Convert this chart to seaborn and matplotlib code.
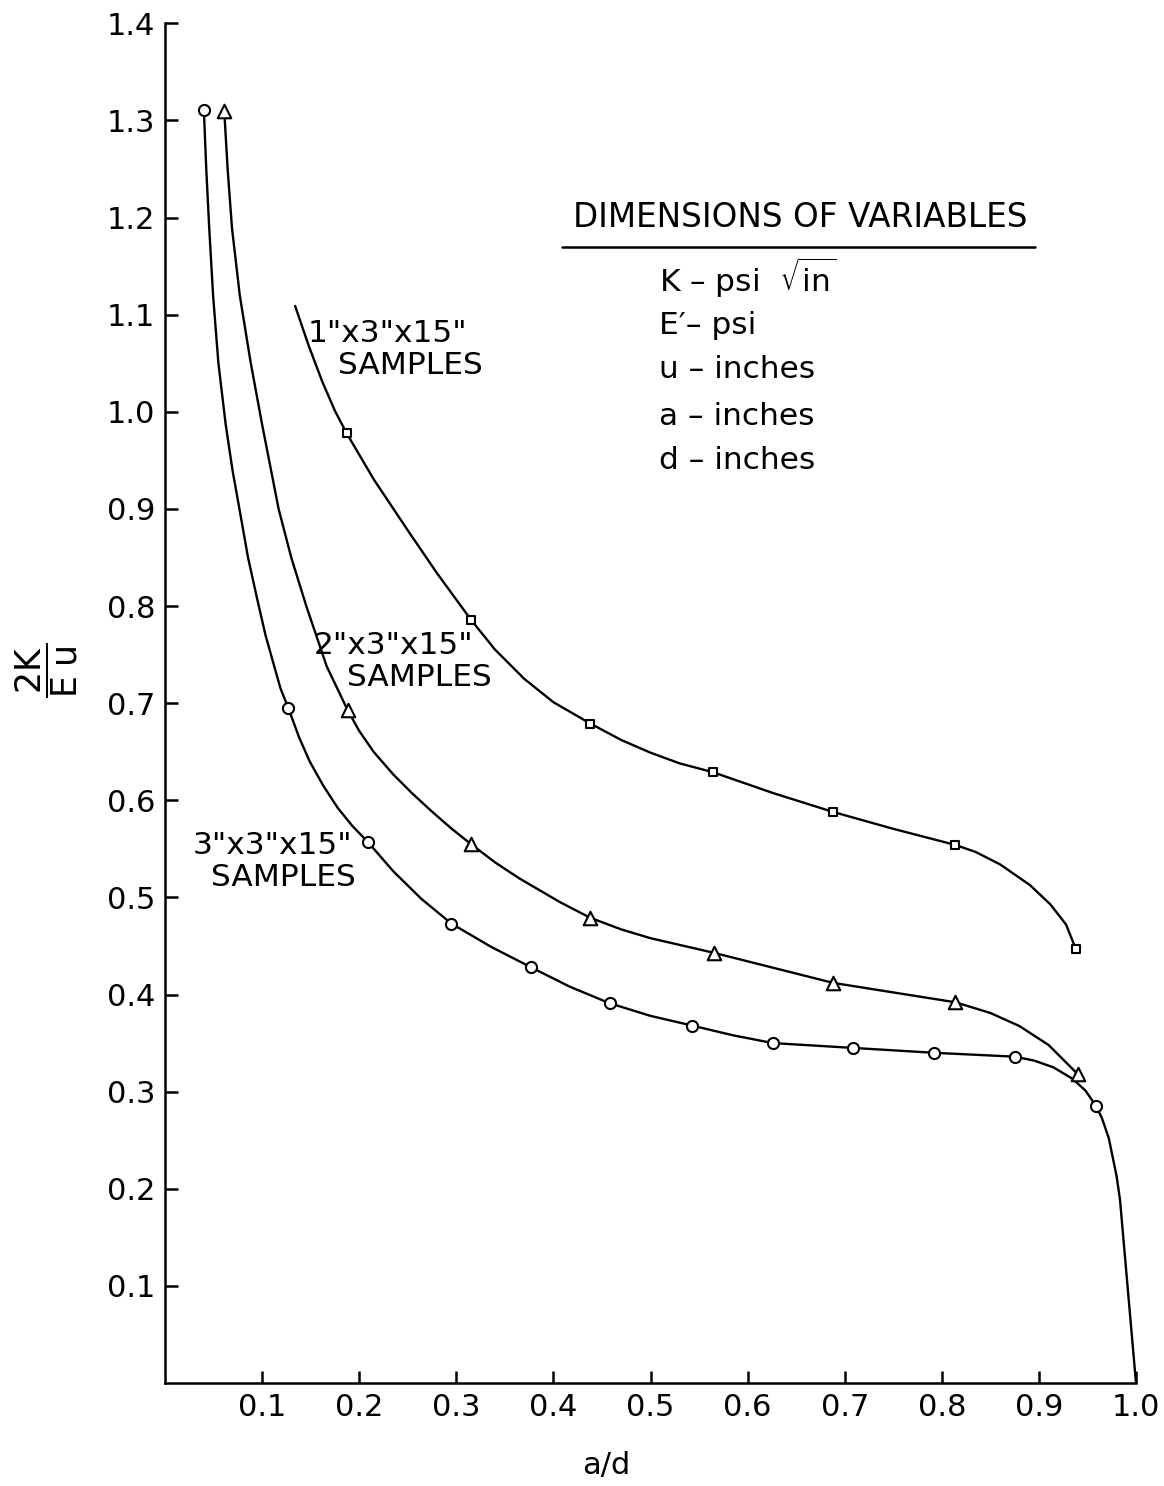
import matplotlib
matplotlib.use("Agg")
import matplotlib.pyplot as plt
from matplotlib.lines import Line2D
import pandas as pd
import seaborn as sns

# ---------------- data ----------------
series_names = ['3"x3"x15"', '2"x3"x15"', '1"x3"x15"']

# plotted test points (markers)
circle_ad = [0.040, 0.127, 0.209, 0.295, 0.377, 0.458, 0.543, 0.626, 0.709, 0.792, 0.875, 0.959]
circle_k = [1.311, 0.695, 0.557, 0.473, 0.428, 0.391, 0.368, 0.350, 0.345, 0.340, 0.336, 0.285]

triangle_ad = [0.061, 0.188, 0.315, 0.438, 0.565, 0.688, 0.814, 0.940]
triangle_k = [1.310, 0.693, 0.555, 0.479, 0.443, 0.412, 0.392, 0.318]

square_ad = [0.187, 0.315, 0.438, 0.564, 0.688, 0.814, 0.938]
square_k = [0.978, 0.786, 0.679, 0.629, 0.588, 0.554, 0.447]

# traced faired curves
circle_curve_ad = [0.040, 0.0425, 0.0455, 0.0495, 0.0550, 0.0625, 0.0695, 0.0770, 0.0855, 0.0950,
                   0.1035, 0.1125, 0.1190, 0.127, 0.138, 0.149, 0.163, 0.178, 0.193, 0.209,
                   0.235, 0.264, 0.295, 0.336, 0.377, 0.417, 0.458, 0.500, 0.543, 0.585,
                   0.626, 0.709, 0.792, 0.875, 0.895, 0.915, 0.935, 0.948, 0.959, 0.965,
                   0.972, 0.980, 0.9835, 0.9917, 1.000]
circle_curve_k = [1.311, 1.250, 1.190, 1.120, 1.050, 0.987, 0.940, 0.898, 0.850, 0.807,
                  0.770, 0.738, 0.715, 0.695, 0.665, 0.640, 0.615, 0.592, 0.5735, 0.557,
                  0.527, 0.4985, 0.473, 0.449, 0.428, 0.408, 0.391, 0.378, 0.368, 0.358,
                  0.350, 0.345, 0.340, 0.336, 0.332, 0.325, 0.313, 0.301, 0.285, 0.2725,
                  0.252, 0.213, 0.189, 0.095, 0.000]

triangle_curve_ad = [0.061, 0.0645, 0.069, 0.077, 0.088, 0.100, 0.117, 0.130, 0.1455, 0.1665,
                     0.188, 0.200, 0.215, 0.235, 0.255, 0.275, 0.295, 0.315, 0.340, 0.365,
                     0.407, 0.438, 0.470, 0.500, 0.565, 0.688, 0.814, 0.850, 0.880, 0.910,
                     0.940]
triangle_curve_k = [1.310, 1.250, 1.189, 1.120, 1.052, 0.987, 0.900, 0.850, 0.800, 0.738,
                    0.693, 0.6714, 0.6497, 0.6267, 0.6067, 0.5883, 0.5709, 0.555, 0.536, 0.5195,
                    0.495, 0.479, 0.467, 0.458, 0.443, 0.412, 0.392, 0.381, 0.3675, 0.348,
                    0.318]

square_curve_ad = [0.134, 0.148, 0.162, 0.175, 0.187, 0.215, 0.252, 0.280, 0.315, 0.340,
                   0.370, 0.400, 0.438, 0.470, 0.500, 0.530, 0.564, 0.626, 0.688, 0.750,
                   0.814, 0.835, 0.860, 0.891, 0.912, 0.928, 0.938]
square_curve_k = [1.109, 1.068, 1.031, 1.001, 0.978, 0.9304, 0.875, 0.834, 0.786, 0.755,
                  0.725, 0.701, 0.679, 0.662, 0.649, 0.638, 0.629, 0.6075, 0.588, 0.5706,
                  0.554, 0.5467, 0.534, 0.5125, 0.4926, 0.472, 0.447]

x_ticks = [0.1, 0.2, 0.3, 0.4, 0.5, 0.6, 0.7, 0.8, 0.9, 1.0]
x_tick_labels = ["0.1", "0.2", "0.3", "0.4", "0.5", "0.6", "0.7", "0.8", "0.9", "1.0"]
y_ticks = [0.1, 0.2, 0.3, 0.4, 0.5, 0.6, 0.7, 0.8, 0.9, 1.0, 1.1, 1.2, 1.3, 1.4]
y_tick_labels = ["0.1", "0.2", "0.3", "0.4", "0.5", "0.6", "0.7", "0.8", "0.9", "1.0",
                 "1.1", "1.2", "1.3", "1.4"]

dimension_title = "DIMENSIONS OF VARIABLES"
dimension_lines = ["K – psi  $\\sqrt{\\mathrm{in}}$", "E\u2032– psi", "u – inches",
                   "a – inches", "d – inches"]

# ---------------- build tables ----------------
curves = pd.concat([
    pd.DataFrame({"a_d": circle_curve_ad, "ratio": circle_curve_k, "series": series_names[0]}),
    pd.DataFrame({"a_d": triangle_curve_ad, "ratio": triangle_curve_k, "series": series_names[1]}),
    pd.DataFrame({"a_d": square_curve_ad, "ratio": square_curve_k, "series": series_names[2]}),
], ignore_index=True)

points = {
    series_names[0]: pd.DataFrame({"a_d": circle_ad, "ratio": circle_k}),
    series_names[1]: pd.DataFrame({"a_d": triangle_ad, "ratio": triangle_k}),
    series_names[2]: pd.DataFrame({"a_d": square_ad, "ratio": square_k}),
}
marker_style = {series_names[0]: ("o", 64), series_names[1]: ("^", 95), series_names[2]: ("s", 38)}

# ---------------- style ----------------
sns.set_theme(style="ticks")
plt.rcParams["font.family"] = ["DejaVu Sans"]
plt.rcParams["mathtext.fontset"] = "dejavusans"
plt.rcParams["axes.linewidth"] = 1.8
plt.rcParams["text.color"] = "black"
plt.rcParams["axes.labelcolor"] = "black"

W, H = 1164, 1486
fig = plt.figure(figsize=(W / 100, H / 100), dpi=100)
ax_left, ax_right, ax_top, ax_bottom = 165, 1136, 23.3, 1383
ax = fig.add_axes([ax_left / W, 1 - ax_bottom / H, (ax_right - ax_left) / W, (ax_bottom - ax_top) / H])

sns.lineplot(data=curves, x="a_d", y="ratio", hue="series", units="series",
             palette={n: "black" for n in series_names}, sort=False, estimator=None,
             legend=False, linewidth=1.7, ax=ax, zorder=2,
             solid_joinstyle="round", solid_capstyle="round")

for name in series_names:
    mk, size = marker_style[name]
    sns.scatterplot(data=points[name], x="a_d", y="ratio", marker=mk, s=size,
                    facecolor="white", edgecolor="black", linewidth=1.5, ax=ax,
                    zorder=3, legend=False)

ax.set_xlim(0, 1.0)
ax.set_ylim(0, 1.4)
ax.set_xticks(x_ticks)
ax.set_xticklabels(x_tick_labels)
ax.set_yticks(y_ticks)
ax.set_yticklabels(y_tick_labels)
ax.tick_params(direction="in", length=9, width=1.8, labelsize=22, pad=7, colors="black")
sns.despine(ax=ax)
for s in ["left", "bottom"]:
    ax.spines[s].set_linewidth(1.8)
    ax.spines[s].set_color("black")

ax.set_xlabel("a/d", fontsize=22)
ax.xaxis.set_label_coords((606 - ax_left) / (ax_right - ax_left), -0.050)
ax.set_ylabel(r"$\dfrac{\mathrm{2K}}{\mathrm{E\;u}}$", fontsize=25)
ax.yaxis.set_label_coords((80 - ax_left) / (ax_right - ax_left), (ax_bottom - 670) / (ax_bottom - ax_top))

# sample annotations
def px2data(px, py):
    return (px - ax_left) / (ax_right - ax_left) * 1.0, (ax_bottom - py) / (ax_bottom - ax_top) * 1.4

ann = [('1"x3"x15"', 387, 333), ("SAMPLES", 410, 365),
       ('2"x3"x15"', 394, 645), ("SAMPLES", 419, 678),
       ('3"x3"x15"', 272, 845), ("SAMPLES", 283, 878)]
for txt, px, py in ann:
    xd, yd = px2data(px, py)
    ax.text(xd, yd, txt, fontsize=22.5, ha="center", va="center", color="black")

# dimensions block
fig.text(800 / W, 1 - 227 / H, dimension_title, fontsize=23.5, ha="center", va="baseline",
         color="black")
fig.add_artist(Line2D([562 / W, 1035 / W], [1 - 247 / H, 1 - 247 / H], lw=1.8, color="black",
                      transform=fig.transFigure))
for txt, base in zip(dimension_lines, [292, 334, 378, 425, 469]):
    fig.text(659 / W, 1 - base / H, txt, fontsize=22.5, ha="left", va="baseline", color="black")

fig.savefig("out.png", dpi=100, facecolor="white")
